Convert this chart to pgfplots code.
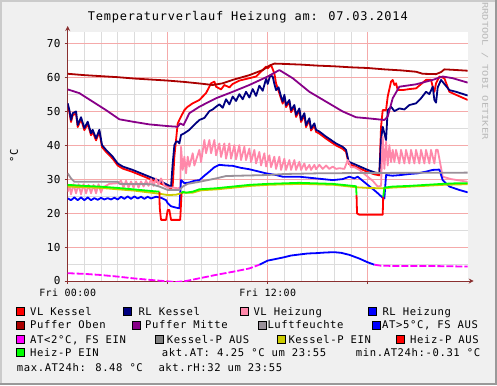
\documentclass[border=0pt]{standalone}
\usepackage{pgfplots}
\pgfplotsset{compat=1.18}
\usepackage{fontspec}
\usetikzlibrary{arrows.meta}
\newfontfamily\rrdtitle[LetterSpace=6.8]{DejaVu Sans Mono}
\newfontfamily\rrdleg[LetterSpace=5.8]{DejaVu Sans Mono}
\newfontfamily\rrdtick[LetterSpace=4]{DejaVu Sans Mono}
\newfontfamily\rrdmono{DejaVu Sans Mono}
\definecolor{cVLK}{HTML}{FF0000}
\definecolor{cRLK}{HTML}{000080}
\definecolor{cVLH}{HTML}{FF88AA}
\definecolor{cRLH}{HTML}{0000FF}
\definecolor{cPO}{HTML}{AA0000}
\definecolor{cPM}{HTML}{880088}
\definecolor{cLF}{HTML}{999099}
\definecolor{cATh}{HTML}{0000FF}
\definecolor{cATl}{HTML}{FF00FF}
\definecolor{cKPA}{HTML}{808080}
\definecolor{cKPE}{HTML}{CCCC00}
\definecolor{cHPA}{HTML}{FF0000}
\definecolor{cHPE}{HTML}{00FF00}
\definecolor{bgc}{HTML}{F0F0F0}
\definecolor{shadea}{HTML}{CBCBCB}
\definecolor{shadeb}{HTML}{999999}
\definecolor{mgrid}{HTML}{F5AAAA}
\definecolor{ngrid}{HTML}{DCDCDC}
\definecolor{axiscol}{HTML}{8A3030}
\definecolor{wmark}{HTML}{B8B8B8}
\newcommand{\lbox}[3]{\filldraw[fill=#3,draw=black,line width=0.6bp] (#1,{381-#2}) rectangle ({#1+8},{389-#2});}
\newcommand{\ltext}[3]{\node[anchor=base west,inner sep=0pt,font=\rrdleg\fontsize{10.6}{12}\selectfont] at (#1,{385-#2-3.85}) {#3};}
\begin{document}
\begin{tikzpicture}[x=1bp,y=1bp]
\fill[bgc] (0,0) rectangle (497,385);
\fill[shadea] (0,0) rectangle (2,385);
\fill[shadea] (0,383) rectangle (497,385);
\fill[shadeb] (495,0) rectangle (497,385);
\fill[shadeb] (0,0) rectangle (497,2);
\path[use as bounding box] (0,0) rectangle (497,385);
\begin{axis}[
  at={(67.7bp,104bp)}, anchor=south west,
  scale only axis, width=400bp, height=249bp,
  xmin=0, xmax=24, ymin=0, ymax=73.3,
  axis background/.style={fill=white},
  axis x line=bottom, axis y line=left,
  axis line style={draw=axiscol, line width=0.8bp, -{Stealth[length=5bp,width=5bp]}, shorten >=-6bp},
  xtick={0,6,12,18}, xticklabels={Fri 00:00,,Fri 12:00,},
  minor x tick num=5,
  ytick={0,10,...,70}, minor y tick num=1,
  grid=both,
  major grid style={color=mgrid, line width=0.6bp},
  minor grid style={color=ngrid, line width=0.6bp},
  tick align=outside, major tick length=3bp, minor tick length=0bp,
  tick style={color=axiscol, line width=0.6bp},
  /pgf/number format/assume math mode=true,
  yticklabel style={font=\rrdtick\fontsize{11}{12}\selectfont, anchor=east, inner sep=0pt, xshift=-4bp},
  xticklabel style={font=\rrdtick\fontsize{10}{12}\selectfont, anchor=north, inner sep=0pt, yshift=-5bp},
  every axis plot/.append style={line width=1.8bp, mark=none, line join=round},
]
% VL Kessel
\addplot[cVLK] coordinates {(0,51.7)(0.1,49.7)(0.2,46.8)(0.3,48.8)(0.5,49.3)(0.6,45.3)(0.8,47.6)(1.0,44.4)(1.2,46.3)(1.4,42.9)(1.5,43.9)(1.7,41.4)(1.9,43.9)(2.06,39.4)(2.3,38.0)(2.7,36.0)(3.0,34.0)(3.3,33.1)(3.9,32.1)(4.4,31.1)(4.9,30.1)(5.5,28.9)(6.0,27.7)(6.2,27.2)
(6.3,28.0)(6.4,36.6)(6.6,46.4)(6.8,48.4)(7.0,50.3)(7.2,51.3)(7.5,52.3)(7.9,53.3)(8.3,55.3)(8.6,58.2)(8.8,58.7)(8.9,57.2)(9.2,56.4)(9.4,57.7)(9.7,57.0)(9.9,58.0)(10.3,59.0)(10.9,59.7)(11.3,60.2)(11.7,62.1)(11.9,63.1)(12.0,62.6)(12.2,63.6)(12.4,61.1)(12.5,58.2)(12.6,56.7)
(12.8,53.7)(12.9,52.2)(13.0,54.2)(13.1,51.2)(13.3,52.7)(13.4,49.7)(13.6,51.2)(13.7,48.3)(13.9,50.2)(14.0,46.8)(14.2,48.8)(14.3,45.3)(14.5,47.3)(14.6,44.3)(14.8,45.8)(14.9,43.9)(15.1,43.4)(15.5,41.9)(16.1,39.9)(16.5,38.9)(16.7,38.0)(16.86,34.5)(17.3,33.6)(18.0,32.1)(18.4,31.4)(18.7,31.1)
(18.8,45.4)(18.9,50.3)(19.1,50.3)(19.2,54.3)(19.4,58.7)(19.5,59.2)(19.6,57.7)(19.7,58.2)(19.8,56.2)(20.1,56.2)(20.5,56.5)(20.9,56.7)(21.5,59.2)(21.8,59.2)(21.9,57.2)(22.0,55.7)(22.1,58.2)(22.3,60.2)(22.6,59.7)(22.9,55.7)(23.3,54.8)(24,53.3)};
% RL Kessel
\addplot[cRLK] coordinates {(0,52.3)(0.1,50.3)(0.2,47.4)(0.3,49.4)(0.5,49.9)(0.6,45.9)(0.8,48.2)(1.0,45.0)(1.2,46.9)(1.4,43.5)(1.5,44.5)(1.7,42.0)(1.9,44.5)(2.06,40.0)(2.3,38.6)(2.7,36.6)(3.0,34.6)(3.3,33.7)(3.9,32.7)(4.4,31.7)(4.9,30.7)(5.5,29.5)(6.0,28.3)(6.2,27.8)
(6.3,34.6)(6.4,40.0)(6.5,41.0)(6.6,41.1)(6.7,40.5)(6.8,43.0)(7.0,43.5)(7.3,44.5)(7.6,46.0)(7.9,47.4)(8.2,48.0)(8.5,50.0)(8.7,50.5)(8.9,51.3)(9.1,52.0)(9.3,51.0)(9.5,53.5)(9.7,52.0)(9.9,54.3)(10.1,53.0)(10.3,55.0)(10.5,53.5)(10.7,55.7)(10.9,54.0)(11.1,56.5)(11.3,54.5)(11.5,57.5)(11.7,56.0)(11.9,59.5)(12.0,58.0)(12.15,60.5)(12.3,60.2)(12.4,58.0)(12.5,56.2)(12.65,57.0)
(12.8,54.3)(12.9,52.8)(13.0,54.8)(13.1,51.8)(13.3,53.3)(13.4,50.3)(13.6,51.8)(13.7,48.9)(13.9,50.8)(14.0,47.4)(14.2,49.4)(14.3,45.9)(14.5,47.9)(14.6,44.9)(14.8,46.4)(14.9,44.5)(15.1,44.0)(15.5,42.5)(16.1,40.5)(16.5,39.5)(16.7,38.6)(16.86,35.1)(17.3,34.2)(18.0,32.7)(18.4,32.0)(18.7,31.7)
(18.8,41.5)(18.9,45.4)(19.0,43.5)(19.1,41.5)(19.2,50.3)(19.4,51.3)(19.6,50.0)(19.9,50.8)(20.2,50.5)(20.5,51.8)(20.9,52.3)(21.2,53.8)(21.5,55.7)(21.7,55.0)(21.9,57.2)(22.0,53.3)(22.1,52.5)(22.2,57.0)(22.4,59.2)(22.6,58.0)(22.9,56.2)(23.3,55.7)(24,54.6)};
% VL Heizung
\addplot[cVLH] coordinates {(0,26.3)(0.1,28.3)(0.2,25.5)(0.35,28.5)(0.5,25.8)(0.65,28.5)(0.8,25.5)(0.95,28.5)(1.1,25.8)(1.25,28.3)(1.4,25.8)(1.55,28.3)(1.7,25.8)(1.85,28.5)(2.0,26.0)(2.1,27.5)(2.5,28.6)(3.0,28.8)
(3.2,29.5)(3.35,27.5)(3.5,29.5)(3.65,27.5)(3.8,29.3)(3.95,27.5)(4.1,29.3)(4.25,27.5)(4.4,29.3)(4.55,27.8)(4.7,29.5)(4.85,28.0)(5.0,30.0)(5.15,28.0)(5.3,30.2)(5.45,28.3)(5.6,30.2)(5.8,28.0)(6.0,27.5)(6.3,27.5)(6.6,27.3)(6.75,27.5)
(6.8,39.5)(6.9,32.7)(7.0,36.6)(7.1,31.7)(7.2,36.6)(7.3,33.7)(7.5,37.6)(7.6,34.0)(7.9,38.6)(8.0,35.0)(8.2,41.5)(8.3,37.6)(8.5,41.5)(8.6,37.6)(8.8,41.5)(8.9,37.0)(9.1,40.5)(9.2,36.5)(9.4,40.5)(9.5,36.0)(9.7,40.5)(9.8,36.0)(10.0,40.0)(10.1,35.8)(10.3,40.0)(10.4,35.6)(10.6,39.5)(10.7,35.6)(10.9,39.0)(11.0,35.0)(11.2,38.6)(11.3,34.6)(11.5,38.0)(11.6,34.0)(11.8,37.6)(11.9,33.7)(12.1,37.0)(12.2,33.5)(12.4,36.6)(12.5,33.0)(12.7,36.6)(12.8,32.7)(13.0,36.0)(13.1,32.7)(13.3,35.6)(13.4,32.7)(13.6,35.6)(13.7,32.7)(13.9,35.1)(14.0,32.7)(14.2,34.6)(14.3,32.7)(14.5,34.2)(14.6,32.7)(14.8,34.2)(14.9,32.9)(15.1,34.2)(15.3,33.0)(15.5,34.0)(15.7,33.0)(15.9,33.7)(16.1,33.0)(16.3,33.2)(16.6,33.0)(16.8,35.6)(17.0,33.5)(17.2,33.5)(17.5,32.7)(17.8,31.5)(18.0,30.7)(18.3,29.5)(18.6,27.8)(18.8,28.0)
(18.9,42.5)(19.0,33.0)(19.1,41.0)(19.2,34.0)(19.3,40.0)(19.4,35.0)(19.5,38.6)(19.6,35.0)(19.7,38.6)(19.9,34.6)(20.0,38.6)(20.2,34.6)(20.3,38.6)(20.5,34.6)(20.6,38.6)(20.8,34.6)(20.9,38.6)(21.1,34.6)(21.2,38.6)(21.4,34.6)(21.5,38.6)(21.7,34.6)(21.8,38.6)(22.0,34.6)(22.1,38.6)(22.2,38.6)(22.5,30.7)(23.0,30.0)(24,29.2)};
% RL Heizung
\addplot[cRLH] coordinates {(0,24.3)(0.2,23.8)(0.4,24.6)(0.6,23.8)(0.8,24.6)(1.0,23.8)(1.2,24.6)(1.4,23.8)(1.6,24.4)(1.8,23.9)(2.0,24.5)(2.2,24.0)(2.4,24.4)(2.6,24.0)(2.8,24.5)(3.0,24.0)(3.2,24.8)(3.4,24.2)(3.6,24.9)(3.8,24.2)(4.0,24.9)(4.2,24.3)(4.4,24.8)(4.6,24.2)(4.8,24.8)(5.0,24.3)(5.3,24.8)(5.6,24.5)(5.9,23.8)(6.0,22.9)(6.2,22.0)(6.5,21.6)(6.7,21.4)(6.8,29.7)(7.0,28.8)(7.3,29.0)(7.6,29.5)(7.9,29.7)(8.2,31.0)(8.5,32.2)(8.8,33.5)(9.1,34.2)(9.5,34.0)(9.9,33.9)(10.4,33.3)(10.9,32.9)(11.4,32.3)(11.9,31.7)(12.5,31.2)(12.9,30.7)(13.9,30.7)(14.9,30.2)(15.9,29.7)(16.5,30.0)(16.9,30.7)(17.2,30.2)(17.4,30.7)(18.0,28.3)(18.5,26.3)(18.9,24.5)(19.0,24.3)(19.1,31.2)(19.5,31.0)(20.0,31.2)(20.5,31.5)(21.0,31.7)(21.5,32.2)(21.9,32.7)(22.3,32.8)(22.5,29.7)(22.9,27.8)(23.5,26.8)(24,26.1)};
% Puffer Oben
\addplot[cPO] coordinates {(0,61.0)(1,60.6)(2,60.3)(3,60.0)(4,59.6)(5,59.3)(6,59.0)(7,58.6)(8,58.1)(8.7,57.7)(9.3,58.2)(9.9,59.2)(10.9,60.6)(11.7,62.1)(12.1,63.4)(12.4,64.0)(13,63.9)(14,63.7)(15,63.4)(16,63.2)(17,62.9)(18,62.7)(19,62.3)(20,62.0)(20.9,61.6)(21.3,61.0)(22.1,60.9)(22.4,61.5)(22.6,62.3)(23,62.2)(24,61.9)};
% Puffer Mitte
\addplot[cPM] coordinates {(0,56.4)(0.7,55.3)(1.5,52.8)(2.3,50.3)(3.1,47.6)(3.9,46.9)(4.9,46.1)(6,45.6)(6.6,45.4)(6.75,46.4)(6.95,45.9)(7.3,49.4)(7.9,51.3)(8.9,53.8)(9.9,55.7)(10.9,57.7)(12,60.2)(12.7,62.1)(13.5,59.7)(14.5,55.7)(15.5,52.8)(16.5,49.9)(17.3,48.2)(18,47.9)(19,47.4)(19.2,48.4)(19.5,53.8)(19.9,57.2)(20.9,57.9)(21.9,59.2)(22.5,60.2)(23.1,59.7)(24,58.4)};
% Luftfeuchte
\addplot[cLF] coordinates {(0,31.7)(0.2,30.2)(0.4,29.2)(3.0,29.2)(3.1,28.6)(5.0,28.5)(5.5,27.8)(6.0,26.8)(6.7,26.8)(6.9,27.8)(7.2,28.6)(7.9,29.2)(8.9,30.2)(9.5,30.9)(12,31.2)(13,31.5)(15,31.7)(18,31.8)(24,31.9)};
% AT > 5
\addplot[cATh] coordinates {(11.5,4.8)(12.0,6.0)(12.9,6.9)(13.4,7.5)(13.9,7.8)(14.4,8.1)(14.9,8.2)(15.5,8.4)(16.0,8.48)(16.4,8.3)(16.9,7.7)(17.5,6.6)(18.0,5.5)(18.4,4.8)};
% AT < 2
\addplot[cATl, dash pattern=on 7bp off 2bp] coordinates {(0,2.3)(1,2.1)(1.9,1.8)(3,1.3)(3.9,0.8)(5,0.3)(6,-0.1)(6.5,-0.3)(7.1,0.0)(8,0.9)(8.9,1.8)(10,2.8)(10.9,3.7)(11.5,4.8)};
\addplot[cATl, dash pattern=on 7bp off 2bp] coordinates {(18.4,4.8)(18.8,4.5)(20,4.4)(22,4.4)(24,4.25)};
% Kessel-P EIN
\addplot[cKPE] coordinates {(0,27.8)(2,27.4)(4,26.6)(5,26.0)(5.5,25.7)(6,25.3)(6.5,25.4)(6.9,26.0)(7.5,26.0)(8,26.7)(9,27.0)(10,27.5)(11,28.0)(12,28.3)(14,28.6)(16,28.3)(17.3,27.6)(18,27.4)(18.7,27.3)(19.0,27.3)(19.5,27.5)(21,27.9)(22.5,28.3)(24,28.5)};
% Heiz-P AUS
\addplot[cHPA] coordinates {(5.5,26.3)(5.52,21.6)(5.6,18.0)(5.9,18.0)(6.0,20.9)(6.1,20.9)(6.2,18.0)(6.75,18.0)(6.83,25.8)};
\addplot[cHPA] coordinates {(17.33,25.3)(17.36,19.9)(17.5,19.5)(18.9,19.5)(18.93,24.8)};
% Heiz-P EIN
\addplot[cHPE] coordinates {(0,28.3)(1,28.0)(1.9,27.8)(3,27.4)(3.9,27.0)(5,26.5)(5.5,26.3)};
\addplot[cHPE] coordinates {(6.83,25.8)(6.9,26.3)(7.1,26.0)(7.5,26.3)(7.9,27.0)(8.9,27.3)(9.9,27.8)(10.9,28.3)(12,28.6)(13.9,28.9)(15.9,28.6)(17.3,27.9)(17.33,25.3)};
\addplot[cHPE] coordinates {(18.93,24.8)(19.0,27.5)(19.5,27.8)(20.5,28.0)(21.5,28.3)(22.5,28.6)(23.5,28.8)(24,28.8)};
\end{axis}
% title
\node[anchor=base,inner sep=0pt,font=\rrdtitle\fontsize{12}{14}\selectfont] at (247.8,{385-20.4}) {Temperaturverlauf Heizung am: 07.03.2014};
% y label
\node[rotate=90,inner sep=0pt,font=\rrdleg\fontsize{10.6}{12}\selectfont] at (14,{385-156}) {°C};
% watermark
\node[rotate=-90,inner sep=0pt,text=wmark,font=\rrdmono\fontsize{8}{9}\selectfont] at (485,{385-71}) {\scalebox{1.3}[1]{RRDTOOL / TOBI OETIKER}};
% legend
\lbox{16.7}{311.3}{cVLK}\ltext{30}{311.3}{VL Kessel}
\lbox{123.3}{311.3}{cRLK}\ltext{138.3}{311.3}{RL Kessel}
\lbox{240}{311.3}{cVLH}\ltext{253.3}{311.3}{VL Heizung}
\lbox{368.3}{311.3}{cRLH}\ltext{382.3}{311.3}{RL Heizung}
\lbox{16.7}{325}{cPO}\ltext{30}{325}{Puffer Oben}
\lbox{132.3}{325}{cPM}\ltext{145}{325}{Puffer Mitte}
\lbox{258.3}{325}{cLF}\ltext{267.3}{325}{Luftfeuchte}
\lbox{372.7}{325}{cATh}\ltext{382}{325}{AT>5°C, FS AUS}
\lbox{16.7}{339.3}{cATl}\ltext{30}{339.3}{AT<2°C, FS EIN}
\lbox{155.7}{339.3}{cKPA}\ltext{166.7}{339.3}{Kessel-P AUS}
\lbox{277.3}{339.3}{cKPE}\ltext{288.3}{339.3}{Kessel-P EIN}
\lbox{396.7}{339.3}{cHPA}\ltext{410}{339.3}{Heiz-P AUS}
\lbox{16.7}{352.7}{cHPE}\ltext{30}{352.7}{Heiz-P EIN}
\ltext{161.7}{352.7}{akt.AT: 4.25 °C um 23:55}
\ltext{355.7}{352.7}{min.AT24h:-0.31 °C}
\ltext{16.7}{367.3}{max.AT24h: 8.48 °C}
\ltext{158.3}{367.3}{akt.rH:32 um 23:55}
\end{tikzpicture}
\end{document}
